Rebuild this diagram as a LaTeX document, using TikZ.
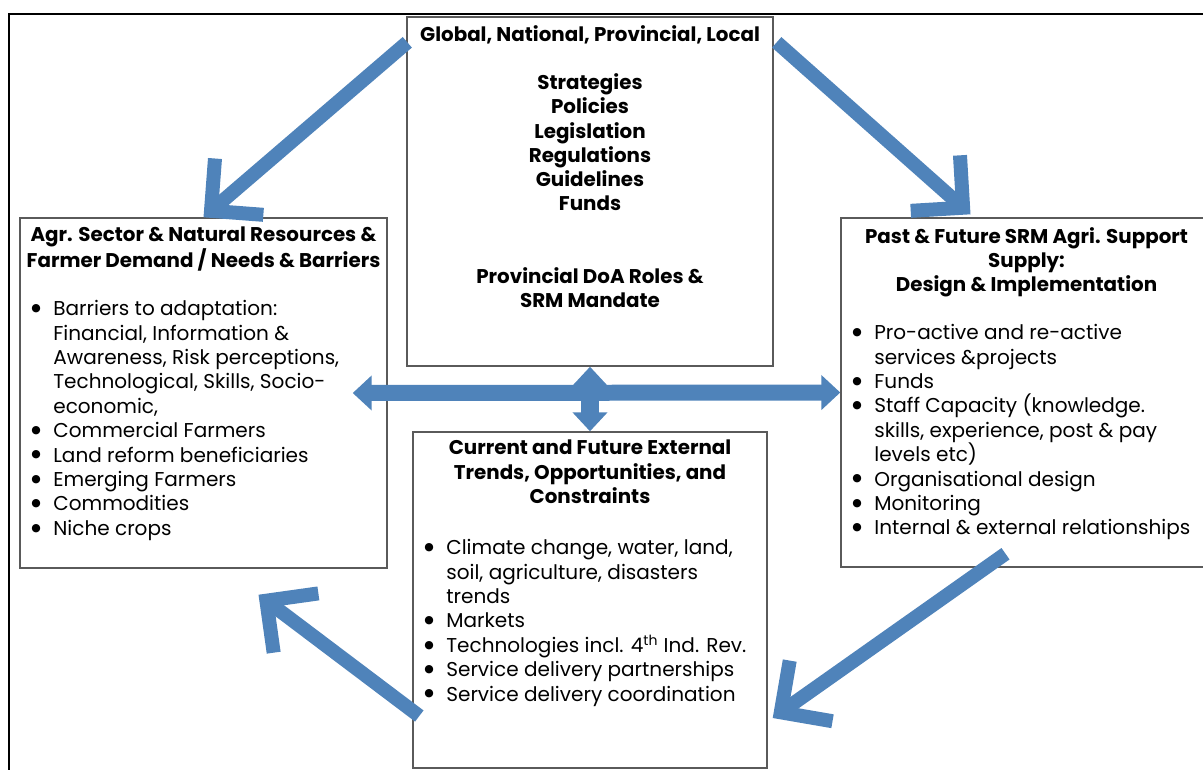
\documentclass[tikz,border=0pt]{standalone}
\usepackage{fontspec}
\setmainfont{Poppins}
\newfontfamily\dotfont{DejaVu Sans}
\usetikzlibrary{arrows.meta,positioning,calc}
\definecolor{srmblue}{HTML}{4F83BA}
\definecolor{srmgrey}{HTML}{5A5A5A}

\newcommand{\bul}{\makebox[0.44cm][l]{\raisebox{2.4pt}{\dotfont\fontsize{6.2}{6.2}\selectfont ●}}}
\newcommand{\ind}{\hspace*{0.44cm}}

\begin{document}
\begin{tikzpicture}[x=0.02cm,y=-0.02cm,
  box/.style={draw=srmgrey,line width=0.03cm,fill=white,inner sep=0pt},
  head/.style={font=\fontsize{11.3}{13.8}\selectfont\bfseries,align=center,inner sep=0pt},
  items/.style={font=\fontsize{11.4}{13.9}\selectfont,align=left,inner sep=0pt,anchor=north west},
  flow/.style={draw=srmblue,line width=0.28cm,-{Straight Barb[angle=90:1.05cm,sharp]}},
  link/.style={draw=srmblue,line width=0.32cm,{Triangle[length=0.38cm,width=0.68cm]}-{Triangle[length=0.38cm,width=0.68cm]}}]
  \clip (0,0) rectangle (1203,769);
  \draw[line width=0.05cm] (9,14) rectangle (1230,800);

  % the four boxes
  \node[box,minimum width=7.32cm,minimum height=6.98cm] (govbox) at (590,191.5) {};
  \node[box,minimum width=7.34cm,minimum height=7cm] (farmbox) at (203.5,393) {};
  \node[box,minimum width=7.42cm,minimum height=6.98cm] (supplybox) at (1026.5,392.5) {};
  \node[box,minimum width=7.08cm,minimum height=6.72cm] (trendbox) at (590,600) {};

  \node[head,below=0.17cm of govbox.north] (govtext) {Global, National, Provincial, Local\\[13.8pt]
    Strategies\\Policies\\Legislation\\Regulations\\Guidelines\\Funds\\[27.6pt]
    Provincial DoA Roles \&\\SRM Mandate};

  \node[head,below=0.19cm of farmbox.north] (farmhead) {Agr. Sector \& Natural Resources \&\\Farmer Demand / Needs \& Barriers};
  \node[items] (farmitems) at (31,300) {\bul Barriers to adaptation:\\
    \ind Financial, Information \&\\
    \ind Awareness, Risk perceptions,\\
    \ind Technological, Skills, Socio-\\
    \ind economic,\\
    \bul Commercial Farmers\\
    \bul Land reform beneficiaries\\
    \bul Emerging Farmers\\
    \bul Commodities\\
    \bul Niche crops};

  \node[head,below=0.19cm of supplybox.north] (supplyhead) {Past \& Future SRM Agri. Support\\Supply:\\Design \& Implementation};
  \node[items] (supplyitems) at (852,324) {\bul Pro-active and re-active\\
    \ind services \&projects\\
    \bul Funds\\
    \bul Staff Capacity (knowledge.\\
    \ind skills, experience, post \& pay\\
    \ind levels etc)\\
    \bul Organisational design\\
    \bul Monitoring\\
    \bul Internal \& external relationships};

  \node[head,below=0.17cm of trendbox.north] (trendhead) {Current and Future External\\Trends, Opportunities, and\\Constraints};
  \node[items] (trenditems) at (424,539) {\bul Climate change, water, land,\\
    \ind soil, agriculture, disasters\\
    \ind trends\\
    \bul Markets\\
    \bul Technologies incl. 4\textsuperscript{th} Ind. Rev.\\
    \bul Service delivery partnerships\\
    \bul Service delivery coordination};

  % cycle arrows
  \coordinate (tl) at ($(govbox.north west)+(1,26)$);
  \coordinate (tr) at ($(govbox.north east)+(3,26)$);
  \coordinate (trtip) at ($(supplybox.north)+(-56,-3)$);
  \coordinate (br) at ($(supplybox.south)+(-21,-14)$);
  \coordinate (brtip) at ($(trendbox.east)+(5,118)$);
  \coordinate (bl) at ($(trendbox.west)+(7,116)$);
  \coordinate (bltip) at ($(farmbox.south)+(55,26)$);
  \draw[flow] (tl) -- (farmbox.north);
  \draw[flow] (tr) -- (trtip);
  \draw[flow] (br) -- (brtip);
  \draw[flow] (bl) -- (bltip);

  \draw[link] ([xshift=-0.7cm]farmbox.east) -- (supplybox.west);
  \draw[link,line width=0.36cm] (govbox.south) -- (trendbox.north);
\end{tikzpicture}
\end{document}
